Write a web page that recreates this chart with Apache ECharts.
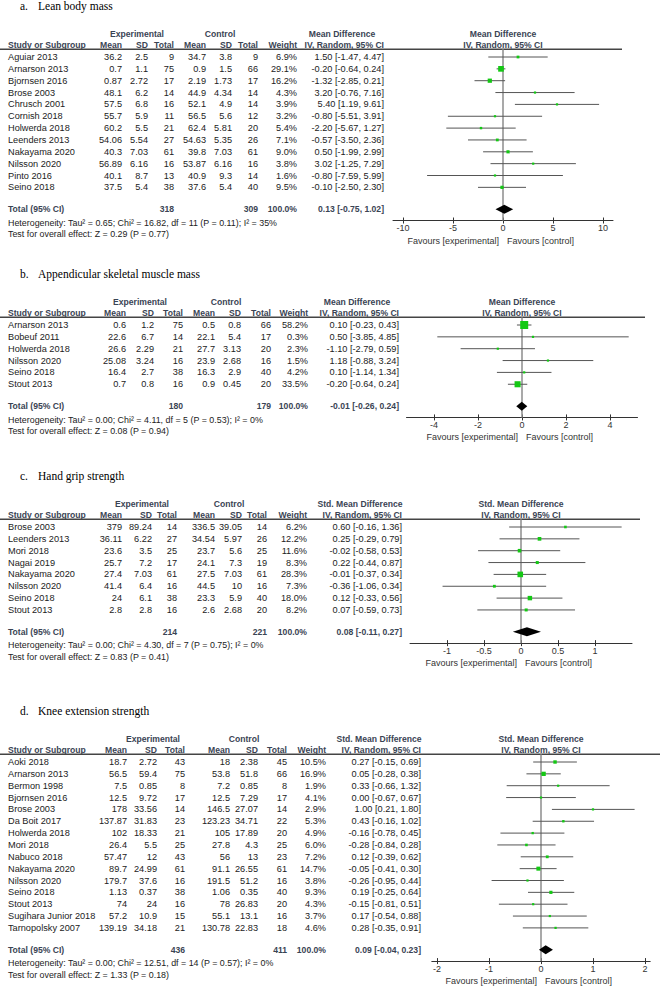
<!DOCTYPE html>
<html><head><meta charset="utf-8">
<script src="https://cdn.jsdelivr.net/npm/echarts@6/dist/echarts.min.js"></script>
<style>html,body{margin:0;padding:0;background:#fff}#c{width:660px;height:987px}</style>
</head><body><div id="c"></div>
<script>
// ---------- DATA ----------
// a. Lean body mass (Mean Difference)
const aStudies = ['Aguiar 2013','Arnarson 2013','Bjornsen 2016','Brose 2003','Chrusch 2001','Cornish 2018','Holwerda 2018','Leenders 2013','Nakayama 2020','Nilsson 2020','Pinto 2016','Seino 2018'];
const aExpMean = ['36.2','0.7','0.87','48.1','57.5','55.7','60.2','54.06','40.3','56.89','40.1','37.5'];
const aExpSD   = ['2.5','1.1','2.72','6.2','6.8','5.9','5.5','5.54','7.03','6.16','8.7','5.4'];
const aExpN    = [9,75,17,14,16,11,21,27,61,16,13,38];
const aCtlMean = ['34.7','0.9','2.19','44.9','52.1','56.5','62.4','54.63','39.8','53.87','40.9','37.6'];
const aCtlSD   = ['3.8','1.5','1.73','4.34','4.9','5.6','5.81','5.35','7.03','6.16','9.3','5.4'];
const aCtlN    = [9,66,17,14,14,12,20,26,61,16,14,40];
const aWeight  = [6.9,29.1,16.2,4.3,3.9,3.2,5.4,7.1,9.0,3.8,1.6,9.5];
const aMD      = [1.50,-0.20,-1.32,3.20,5.40,-0.80,-2.20,-0.57,0.50,3.02,-0.80,-0.10];
const aLo      = [-1.47,-0.64,-2.85,-0.76,1.19,-5.51,-5.67,-3.50,-1.99,-1.25,-7.59,-2.50];
const aHi      = [4.47,0.24,0.21,7.16,9.61,3.91,1.27,2.36,2.99,7.29,5.99,2.30];
const aTotal   = {expN:318, ctlN:309, md:0.13, lo:-0.75, hi:1.02};
const aHet     = 'Heterogeneity: Tau\u00b2 = 0.65; Chi\u00b2 = 16.82, df = 11 (P = 0.11); I\u00b2 = 35%';
const aTest    = 'Test for overall effect: Z = 0.29 (P = 0.77)';
const aTicks   = [-10,-5,0,5,10];

// b. Appendicular skeletal muscle mass (Mean Difference)
const bStudies = ['Arnarson 2013','Bobeuf 2011','Holwerda 2018','Nilsson 2020','Seino 2018','Stout 2013'];
const bExpMean = ['0.6','22.6','26.6','25.08','16.4','0.7'];
const bExpSD   = ['1.2','6.7','2.29','3.24','2.7','0.8'];
const bExpN    = [75,14,21,16,38,16];
const bCtlMean = ['0.5','22.1','27.7','23.9','16.3','0.9'];
const bCtlSD   = ['0.8','5.4','3.13','2.68','2.9','0.45'];
const bCtlN    = [66,17,20,16,40,20];
const bWeight  = [58.2,0.3,2.3,1.5,4.2,33.5];
const bMD      = [0.10,0.50,-1.10,1.18,0.10,-0.20];
const bLo      = [-0.23,-3.85,-2.79,-0.88,-1.14,-0.64];
const bHi      = [0.43,4.85,0.59,3.24,1.34,0.24];
const bTotal   = {expN:180, ctlN:179, md:-0.01, lo:-0.26, hi:0.24};
const bHet     = 'Heterogeneity: Tau\u00b2 = 0.00; Chi\u00b2 = 4.11, df = 5 (P = 0.53); I\u00b2 = 0%';
const bTest    = 'Test for overall effect: Z = 0.08 (P = 0.94)';
const bTicks   = [-4,-2,0,2,4];

// c. Hand grip strength (Std. Mean Difference)
const cStudies = ['Brose 2003','Leenders 2013','Mori 2018','Nagai 2019','Nakayama 2020','Nilsson 2020','Seino 2018','Stout 2013'];
const cExpMean = ['379','36.11','23.6','25.7','27.4','41.4','24','2.8'];
const cExpSD   = ['89.24','6.22','3.5','7.2','7.03','6.4','6.1','2.8'];
const cExpN    = [14,27,25,17,61,16,38,16];
const cCtlMean = ['336.5','34.54','23.7','24.1','27.5','44.5','23.3','2.6'];
const cCtlSD   = ['39.05','5.97','5.6','7.3','7.03','10','5.9','2.68'];
const cCtlN    = [14,26,25,19,61,16,40,20];
const cWeight  = [6.2,12.2,11.6,8.3,28.3,7.3,18.0,8.2];
const cMD      = [0.60,0.25,-0.02,0.22,-0.01,-0.36,0.12,0.07];
const cLo      = [-0.16,-0.29,-0.58,-0.44,-0.37,-1.06,-0.33,-0.59];
const cHi      = [1.36,0.79,0.53,0.87,0.34,0.34,0.56,0.73];
const cTotal   = {expN:214, ctlN:221, md:0.08, lo:-0.11, hi:0.27};
const cHet     = 'Heterogeneity: Tau\u00b2 = 0.00; Chi\u00b2 = 4.30, df = 7 (P = 0.75); I\u00b2 = 0%';
const cTest    = 'Test for overall effect: Z = 0.83 (P = 0.41)';
const cTicks   = [-1,-0.5,0,0.5,1];

// d. Knee extension strength (Std. Mean Difference)
const dStudies = ['Aoki 2018','Arnarson 2013','Bermon 1998','Bjornsen 2016','Brose 2003','Da Boit 2017','Holwerda 2018','Mori 2018','Nabuco 2018','Nakayama 2020','Nilsson 2020','Seino 2018','Stout 2013','Sugihara Junior 2018','Tarnopolsky 2007'];
const dExpMean = ['18.7','56.5','7.5','12.5','178','137.87','102','26.4','57.47','89.7','179.7','1.13','74','57.2','139.19'];
const dExpSD   = ['2.72','59.4','0.85','9.72','33.56','31.83','18.33','5.5','12','24.99','37.6','0.37','24','10.9','34.18'];
const dExpN    = [43,75,8,17,14,23,21,25,43,61,16,38,16,15,21];
const dCtlMean = ['18','53.8','7.2','12.5','146.5','123.23','105','27.8','56','91.1','191.5','1.06','78','55.1','130.78'];
const dCtlSD   = ['2.38','51.8','0.85','7.29','27.07','34.71','17.89','4.3','13','26.55','51.2','0.35','26.83','13.1','22.83'];
const dCtlN    = [45,66,8,17,14,22,20,25,23,61,16,40,20,16,18];
const dWeight  = [10.5,16.9,1.9,4.1,2.9,5.3,4.9,6.0,7.2,14.7,3.8,9.3,4.3,3.7,4.6];
const dMD      = [0.27,0.05,0.33,0.00,1.00,0.43,-0.16,-0.28,0.12,-0.05,-0.26,0.19,-0.15,0.17,0.28];
const dLo      = [-0.15,-0.28,-0.66,-0.67,0.21,-0.16,-0.78,-0.84,-0.39,-0.41,-0.95,-0.25,-0.81,-0.54,-0.35];
const dHi      = [0.69,0.38,1.32,0.67,1.80,1.02,0.45,0.28,0.62,0.30,0.44,0.64,0.51,0.88,0.91];
const dTotal   = {expN:436, ctlN:411, md:0.09, lo:-0.04, hi:0.23};
const dHet     = 'Heterogeneity: Tau\u00b2 = 0.00; Chi\u00b2 = 12.51, df = 14 (P = 0.57); I\u00b2 = 0%';
const dTest    = 'Test for overall effect: Z = 1.33 (P = 0.18)';
const dTicks   = [-2,-1,0,1,2];

const panelTitles = ['Lean body mass','Appendicular skeletal muscle mass','Hand grip strength','Knee extension strength'];
const panelLetters = ['a.','b.','c.','d.'];
const measureNames = ['Mean Difference','Mean Difference','Std. Mean Difference','Std. Mean Difference'];

// ---------- ASSEMBLY ----------
const panels = [
  {studies:aStudies,em:aExpMean,es:aExpSD,en:aExpN,cm:aCtlMean,cs:aCtlSD,cn:aCtlN,w:aWeight,md:aMD,lo:aLo,hi:aHi,tot:aTotal,het:aHet,test:aTest,ticks:aTicks},
  {studies:bStudies,em:bExpMean,es:bExpSD,en:bExpN,cm:bCtlMean,cs:bCtlSD,cn:bCtlN,w:bWeight,md:bMD,lo:bLo,hi:bHi,tot:bTotal,het:bHet,test:bTest,ticks:bTicks},
  {studies:cStudies,em:cExpMean,es:cExpSD,en:cExpN,cm:cCtlMean,cs:cCtlSD,cn:cCtlN,w:cWeight,md:cMD,lo:cLo,hi:cHi,tot:cTotal,het:cHet,test:cTest,ticks:cTicks},
  {studies:dStudies,em:dExpMean,es:dExpSD,en:dExpN,cm:dCtlMean,cs:dCtlSD,cn:dCtlN,w:dWeight,md:dMD,lo:dLo,hi:dHi,tot:dTotal,het:dHet,test:dTest,ticks:dTicks}
];

// layout (pixels)
const PITCH = 11.85;
const layouts = [
  {row0:57,  cols:[122,148,174,206,232,258,297,384], expC:137, ctlC:220, left:393,   width:220,   xmin:-11,  xmax:11,  ruleRight:622},
  {row0:325, cols:[126,154,183,215,241,271,308,399], expC:140, ctlC:226, left:406.5, width:231,   xmin:-5.25,xmax:5.25,ruleRight:645},
  {row0:527, cols:[122,152,177,215,242,267,307,402], expC:142, ctlC:229, left:410,   width:222,   xmin:-1.5, xmax:1.5, ruleRight:640},
  {row0:762, cols:[127,157,185,230,258,287,326,421], expC:153, ctlC:244, left:431.8, width:218.4, xmin:-2.1, xmax:2.1, ruleRight:660}
];

const FONT = '"Liberation Sans", Arial, sans-serif';
const TXT = '#222';
const HDR = '#3a4454';
const ROWSIZE = 9.2, BOLDSIZE = 8.6, NOTESIZE = 8.9;
const fmt2 = v => v.toFixed(2);
const ci = (m,l,h) => `${fmt2(m)} [${fmt2(l)}, ${fmt2(h)}]`;

const grids = [], xAxes = [], yAxes = [], series = [];
panels.forEach((p, i) => {
  const L = layouts[i], n = p.studies.length;
  grids.push({left:L.left, width:L.width, top:L.row0 - 0.65*PITCH, height:(n + 2.45)*PITCH, containLabel:false});
  xAxes.push({gridIndex:i, type:'value', min:L.xmin, max:L.xmax, position:'bottom',
    axisLine:{show:true, onZero:false, lineStyle:{color:'#333', width:1}},
    axisTick:{show:true, customValues:p.ticks, length:3, lineStyle:{color:'#333'}},
    axisLabel:{show:true, customValues:p.ticks, fontSize:9, color:'#333', margin:3, fontFamily:FONT},
    splitLine:{show:false}});
  xAxes.push({gridIndex:i, type:'value', min:L.xmin, max:L.xmax, position:'bottom',
    axisLine:{show:false, onZero:false},
    axisTick:{show:true, inside:true, customValues:p.ticks, length:3, lineStyle:{color:'#333'}},
    axisLabel:{show:false}, splitLine:{show:false}});
  yAxes.push({gridIndex:i, type:'value', inverse:true, min:-0.65, max:n + 1.8, show:false});
  const ymin = -0.65, ymax = n + 1.8;
  // zero reference line
  series.push({type:'custom', xAxisIndex:2*i, yAxisIndex:i, z:1, silent:true,
    data:[[0, ymin, ymax]],
    renderItem:(params, api) => {
      const a = api.coord([api.value(0), api.value(1)]), b = api.coord([api.value(0), api.value(2)]);
      return {type:'line', shape:{x1:a[0], y1:a[1], x2:b[0], y2:b[1]}, style:{stroke:'#8c8c8c', lineWidth:1.5}};
    }});
  // CI lines + squares
  series.push({type:'custom', xAxisIndex:2*i, yAxisIndex:i, z:3, silent:true,
    data:p.md.map((m, k) => [m, p.lo[k], p.hi[k], k, p.w[k]]),
    renderItem:(params, api) => {
      const m = api.value(0), lo = api.value(1), hi = api.value(2), r = api.value(3), w = api.value(4);
      const p1 = api.coord([lo, r]), p2 = api.coord([hi, r]), pm = api.coord([m, r]);
      const s = Math.max(2.2, 1.05*Math.sqrt(w));
      return {type:'group', children:[
        {type:'line', shape:{x1:p1[0], y1:p1[1], x2:p2[0], y2:p2[1]}, style:{stroke:'#555', lineWidth:1}},
        {type:'rect', shape:{x:pm[0]-s/2, y:pm[1]-s/2, width:s, height:s}, style:{fill:'#14c814'}}
      ]};
    }});
  // pooled diamond
  series.push({type:'custom', xAxisIndex:2*i, yAxisIndex:i, z:3, silent:true,
    data:[[p.tot.md, p.tot.lo, p.tot.hi, n + 0.85]],
    renderItem:(params, api) => {
      const m = api.value(0), lo = api.value(1), hi = api.value(2), r = api.value(3);
      const a = api.coord([lo, r]), b = api.coord([m, r]), c = api.coord([hi, r]);
      const h = 4.5;
      return {type:'polygon', shape:{points:[[a[0], a[1]], [b[0], b[1]-h], [c[0], c[1]], [b[0], b[1]+h]]}, style:{fill:'#000'}};
    }});
});

const chart = echarts.init(document.getElementById('c'), null, {renderer:'svg'});
chart.setOption({animation:false, backgroundColor:'#fff', grid:grids, xAxis:xAxes, yAxis:yAxes, series:series});

// ---------- TEXT (positioned through the axes) ----------
const g = [];
function t(x, y, s, o) {
  o = o || {};
  g.push({type:'text', x:x, y:y, silent:true, style:{text:s, fill:o.fill || TXT,
    font:(o.bold ? 'bold ' : '') + (o.size || ROWSIZE) + 'px ' + (o.family || FONT),
    textAlign:o.align || 'left', textVerticalAlign:'middle', align:o.align || 'left', verticalAlign:'middle'}});
}
panels.forEach((p, i) => {
  const L = layouts[i], n = p.studies.length, C = L.cols;
  const Y = r => chart.convertToPixel({yAxisIndex:i}, r);
  const X0 = chart.convertToPixel({xAxisIndex:2*i}, 0);
  const y0 = Y(0), yTop = Y(-0.65), yAx = Y(n + 1.8), yTot = Y(n + 0.85);
  const B = {bold:true, size:BOLDSIZE, fill:HDR};
  // title
  const serif = '"Liberation Serif", "Times New Roman", serif';
  t(20, y0 - 51, panelLetters[i], {size:11.5, family:serif, fill:'#000'});
  t(38, y0 - 51, panelTitles[i], {size:11.5, family:serif, fill:'#000'});
  // header row 1
  const h1 = y0 - 23, h2 = y0 - 12;
  t(L.expC, h1, 'Experimental', Object.assign({align:'center'}, B));
  t(L.ctlC, h1, 'Control', Object.assign({align:'center'}, B));
  t(C[7] - 42, h1, measureNames[i], Object.assign({align:'center'}, B));
  t(X0, h1, measureNames[i], Object.assign({align:'center'}, B));
  // header row 2
  t(8, h2, 'Study or Subgroup', B);
  ['Mean','SD','Total','Mean','SD','Total','Weight','IV, Random, 95% CI'].forEach((h, k) =>
    t(C[k], h2, h, Object.assign({align:'right'}, B)));
  t(X0, h2, 'IV, Random, 95% CI', Object.assign({align:'center'}, B));
  // rule
  g.push({type:'line', silent:true, shape:{x1:0, y1:yTop, x2:L.ruleRight, y2:yTop}, style:{stroke:'#444', lineWidth:1.5}});
  // study rows
  p.studies.forEach((s, k) => {
    const y = Y(k);
    t(8, y, s);
    const vals = [p.em[k], p.es[k], String(p.en[k]), p.cm[k], p.cs[k], String(p.cn[k]), p.w[k].toFixed(1) + '%', ci(p.md[k], p.lo[k], p.hi[k])];
    vals.forEach((v, j) => t(C[j], y, v, {align:'right'}));
  });
  // total row
  t(8, yTot, 'Total (95% CI)', B);
  t(C[2], yTot, String(p.tot.expN), Object.assign({align:'right'}, B));
  t(C[5], yTot, String(p.tot.ctlN), Object.assign({align:'right'}, B));
  t(C[6], yTot, '100.0%', Object.assign({align:'right'}, B));
  t(C[7], yTot, ci(p.tot.md, p.tot.lo, p.tot.hi), Object.assign({align:'right'}, B));
  t(8, yTot + 13.5, p.het, {size:NOTESIZE});
  t(8, yTot + 25, p.test, {size:NOTESIZE});
  // favours
  t(X0 - 4, yAx + 20, 'Favours [experimental]', {size:9, fill:'#333', align:'right'});
  t(X0 + 4, yAx + 20, 'Favours [control]', {size:9, fill:'#333'});
});
chart.setOption({graphic:{elements:g}});
</script>
</body></html>
